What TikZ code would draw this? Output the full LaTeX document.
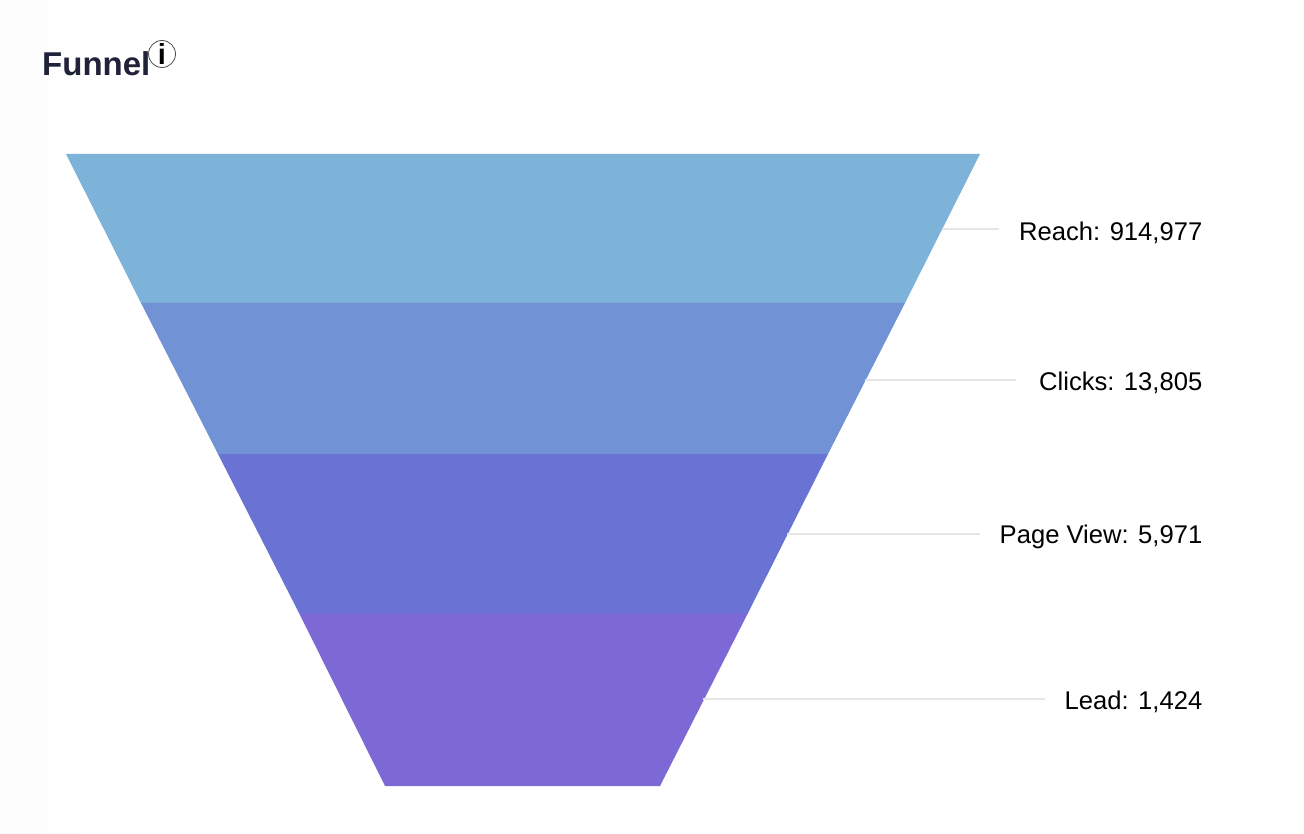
\documentclass[tikz,border=0pt]{standalone}
\usepackage{fontspec}
\setmainfont{Liberation Sans}
\usetikzlibrary{positioning}
\definecolor{reachblue}{HTML}{7DB3D8}
\definecolor{clicksblue}{HTML}{7192D5}
\definecolor{viewblue}{HTML}{6A72D4}
\definecolor{leadpurple}{HTML}{7D69D5}
\definecolor{titleink}{HTML}{1F2238}
\definecolor{leaderline}{HTML}{E6E6E6}

\begin{document}
\begin{tikzpicture}[
  x=1pt, y=-1pt,
  title/.style={font=\fontsize{33}{33}\selectfont\bfseries, text=titleink, inner sep=0pt},
  info/.style={draw=black!70, circle, line width=0.8pt, inner sep=0pt, minimum size=27pt,
               font=\fontsize{29}{29}\selectfont\rmfamily\bfseries},
  label/.style={font=\fontsize{25.6}{25.6}\selectfont, text=black, inner sep=0pt, anchor=east},
  leader/.style={draw=leaderline, line width=1.2pt, shorten >=20pt},
]
\useasboundingbox (0,0) rectangle (1304,834);
\fill[white] (0,0) rectangle (1304,834);
\fill[left color=black!1, right color=white] (0,0) rectangle (100,834);

\node[title, anchor=base west] (ttl) at (42,76) {Funnel};
\node[info] (icon) at (162,54) {i};

% the funnel bands
\fill[reachblue]  (66,154)  -- (980,154) -- (905,303) -- (141,303) -- cycle;
\fill[clicksblue] (141,303) -- (905,303) -- (828,454) -- (218,454) -- cycle;
\fill[viewblue]   (218,454) -- (828,454) -- (748,613) -- (299,613) -- cycle;
\fill[leadpurple] (299,613) -- (748,613) -- (660,786) -- (385,786) -- cycle;

\node[label] (reach)  at (1202.5,233) {Reach: 914,977};
\node[label] (clicks) at (1202.5,383) {Clicks: 13,805};
\node[label] (view)   at (1202.5,537) {Page View: 5,971};
\node[label] (lead)   at (1202.5,702) {Lead: 1,424};

\coordinate (reachedge)  at (942,229);
\coordinate (clicksedge) at (865,380);
\coordinate (viewedge)   at (787,534);
\coordinate (leadedge)   at (703,699);
\draw[leader] (reachedge)  -- (reachedge -| reach.west);
\draw[leader, shorten >=23pt] (clicksedge) -- (clicksedge -| clicks.west);
\draw[leader] (viewedge)   -- (viewedge -| view.west);
\draw[leader] (leadedge)   -- (leadedge -| lead.west);
\end{tikzpicture}
\end{document}
